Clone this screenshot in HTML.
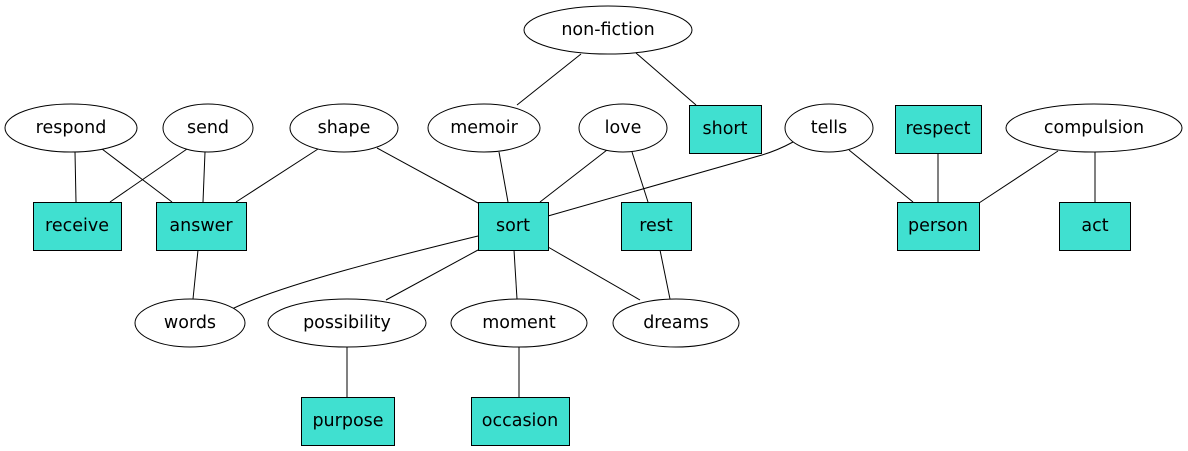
<!DOCTYPE html>
<html><head><meta charset="utf-8"><style>
html,body{margin:0;padding:0;background:#fff;}
svg{display:block;}
text{font-family:"DejaVu Sans","Liberation Sans",sans-serif;font-size:17.5px;text-anchor:middle;dominant-baseline:central;fill:#000;}
</style></head><body>
<svg width="1188" height="451" viewBox="0 0 1188 451" xmlns="http://www.w3.org/2000/svg">
<g stroke="#000" stroke-width="1" fill="none">
<line x1="581" y1="54" x2="517" y2="105"/>
<line x1="636" y1="53" x2="696" y2="105"/>
<line x1="75" y1="152" x2="76" y2="202"/>
<line x1="102" y1="149" x2="172" y2="202"/>
<line x1="187" y1="149" x2="110" y2="202"/>
<line x1="205" y1="152" x2="203" y2="202"/>
<line x1="318" y1="149" x2="236" y2="202"/>
<line x1="377" y1="148" x2="478" y2="203"/>
<line x1="499" y1="152" x2="508" y2="202"/>
<line x1="607" y1="150" x2="540" y2="202"/>
<line x1="632" y1="152" x2="648" y2="202"/>
<path d="M793 142 C782 148 772 152 762 155 L548 216"/>
<line x1="849" y1="150" x2="913" y2="202"/>
<line x1="938" y1="153" x2="938" y2="202"/>
<line x1="1058" y1="151" x2="979" y2="203"/>
<line x1="1095" y1="152" x2="1095" y2="202"/>
<line x1="198" y1="250" x2="193" y2="299"/>
<path d="M478 236 C400 255 280 285 232 309"/>
<line x1="478" y1="250" x2="386" y2="300"/>
<line x1="514" y1="250" x2="517" y2="299"/>
<line x1="548" y1="247" x2="640" y2="300"/>
<line x1="660" y1="250" x2="670" y2="299"/>
<line x1="347" y1="347" x2="347" y2="397"/>
<line x1="519" y1="347" x2="519" y2="397"/>
</g>
<g stroke="#000" stroke-width="1" fill="#fff">
<ellipse cx="608" cy="30" rx="84" ry="24"/>
<ellipse cx="71" cy="128" rx="66" ry="24"/>
<ellipse cx="208" cy="128" rx="45" ry="24"/>
<ellipse cx="344" cy="128" rx="54" ry="24"/>
<ellipse cx="484" cy="128" rx="56" ry="24"/>
<ellipse cx="623" cy="128" rx="44" ry="24"/>
<ellipse cx="829" cy="128" rx="44" ry="24"/>
<ellipse cx="1094" cy="128" rx="88" ry="24"/>
<ellipse cx="190" cy="323" rx="55" ry="24"/>
<ellipse cx="347" cy="323" rx="79" ry="24"/>
<ellipse cx="519" cy="323" rx="68" ry="24"/>
<ellipse cx="676" cy="323" rx="63" ry="24"/>
</g>
<g stroke="#000" stroke-width="1" fill="#40e0d0">
<rect x="689.5" y="105.5" width="72" height="48"/>
<rect x="895.5" y="105.5" width="86" height="48"/>
<rect x="33.5" y="202.5" width="88" height="48"/>
<rect x="156.5" y="202.5" width="90" height="48"/>
<rect x="478.5" y="202.5" width="70" height="48"/>
<rect x="621.5" y="202.5" width="70" height="48"/>
<rect x="897.5" y="202.5" width="82" height="48"/>
<rect x="1059.5" y="202.5" width="71" height="48"/>
<rect x="301.5" y="397.5" width="93" height="48"/>
<rect x="471.5" y="397.5" width="98" height="48"/>
</g>
<text x="608" y="30">non-fiction</text>
<text x="71" y="128">respond</text>
<text x="208" y="128">send</text>
<text x="344" y="128">shape</text>
<text x="484" y="128">memoir</text>
<text x="623" y="128">love</text>
<text x="725" y="129">short</text>
<text x="829" y="128">tells</text>
<text x="938" y="129">respect</text>
<text x="1094" y="128">compulsion</text>
<text x="77" y="226">receive</text>
<text x="201" y="226">answer</text>
<text x="513" y="226">sort</text>
<text x="656" y="226">rest</text>
<text x="938" y="226">person</text>
<text x="1095" y="226">act</text>
<text x="190" y="323">words</text>
<text x="347" y="323">possibility</text>
<text x="519" y="323">moment</text>
<text x="676" y="323">dreams</text>
<text x="348" y="421">purpose</text>
<text x="520" y="421">occasion</text>
</svg>
</body></html>
